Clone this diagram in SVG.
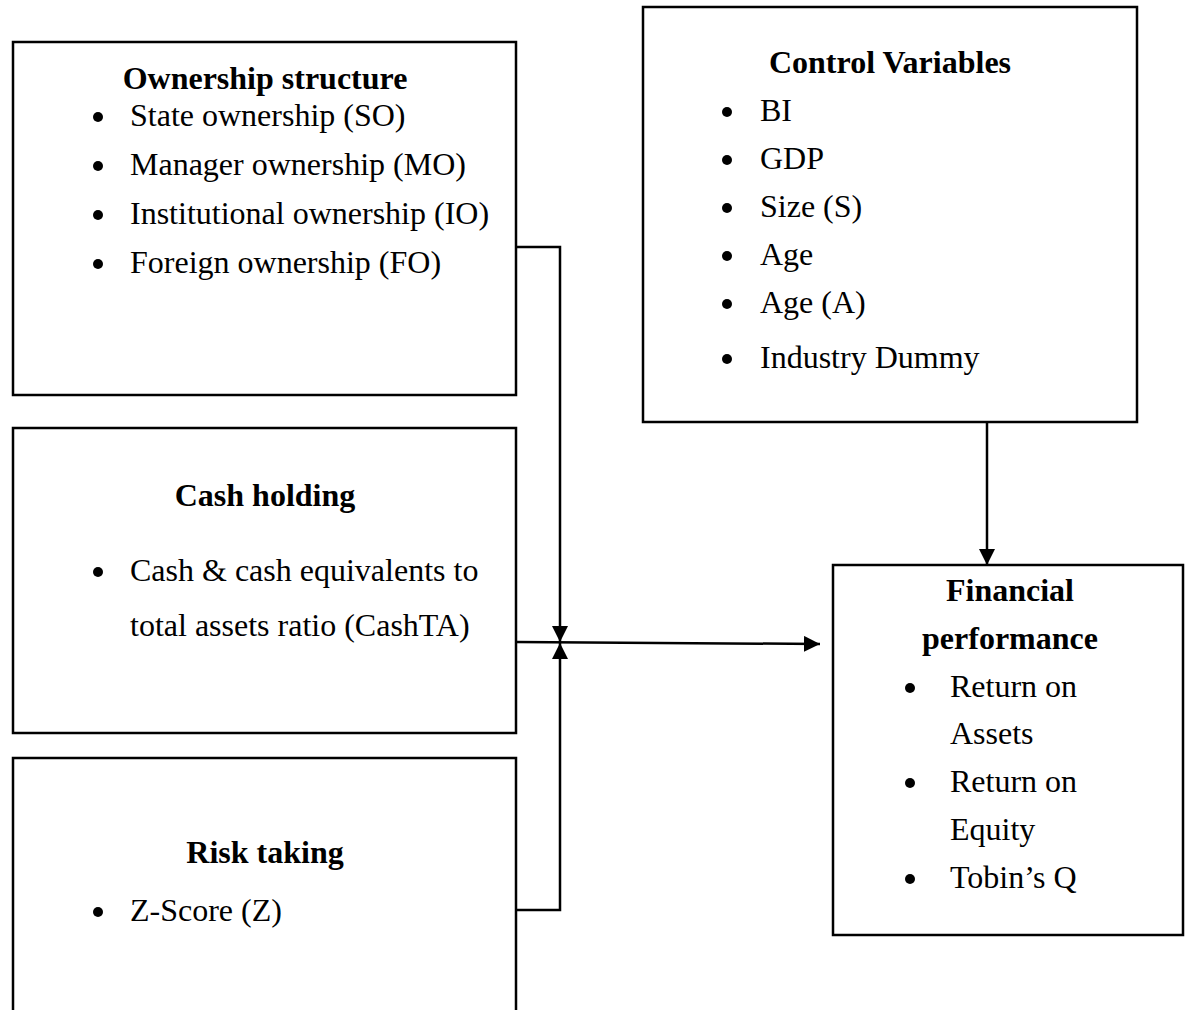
<svg xmlns="http://www.w3.org/2000/svg" width="1190" height="1010" viewBox="0 0 1190 1010">
<style>
.box{fill:#fff;stroke:#000;stroke-width:2.5}
.t{font-family:"Liberation Serif","Times New Roman",serif;font-size:32px;fill:#000}
.b{font-weight:bold}
.c{text-anchor:middle}
.ln{stroke:#000;stroke-width:2.5;fill:none}
</style>
<defs>
<marker id="ah" viewBox="0 0 10 10" refX="10" refY="5" markerWidth="16" markerHeight="16" markerUnits="userSpaceOnUse" orient="auto">
<path d="M0,0 L10,5 L0,10 Z" fill="#000"/>
</marker>
</defs>
<rect width="1190" height="1010" fill="#fff"/>
<g id="ownership">
<rect class="box" x="13" y="42" width="503" height="353"/>
<text class="t b c" x="265" y="89">Ownership structure</text>
<g class="t"><circle cx="98" cy="117" r="5"/><text x="130" y="126">State ownership (SO)</text>
<circle cx="98" cy="166" r="5"/><text x="130" y="175">Manager ownership (MO)</text>
<circle cx="98" cy="215" r="5"/><text x="130" y="224">Institutional ownership (IO)</text>
<circle cx="98" cy="264" r="5"/><text x="130" y="273">Foreign ownership (FO)</text></g>
</g>
<g id="cash">
<rect class="box" x="13" y="428" width="503" height="305"/>
<text class="t b c" x="265" y="506">Cash holding</text>
<g class="t"><circle cx="98" cy="572" r="5"/><text x="130" y="581">Cash &amp; cash equivalents to</text>
<text x="130" y="636">total assets ratio (CashTA)</text></g>
</g>
<g id="risk">
<rect class="box" x="13" y="758" width="503" height="270"/>
<text class="t b c" x="265" y="863">Risk taking</text>
<g class="t"><circle cx="98" cy="912" r="5"/><text x="130" y="921">Z-Score (Z)</text></g>
</g>
<g id="control">
<rect class="box" x="643" y="7" width="494" height="415"/>
<text class="t b c" x="890" y="73">Control Variables</text>
<g class="t"><circle cx="727" cy="112" r="5"/><text x="760" y="121">BI</text>
<circle cx="727" cy="160" r="5"/><text x="760" y="169">GDP</text>
<circle cx="727" cy="208" r="5"/><text x="760" y="217">Size (S)</text>
<circle cx="727" cy="256" r="5"/><text x="760" y="265">Age</text>
<circle cx="727" cy="304" r="5"/><text x="760" y="313">Age (A)</text>
<circle cx="727" cy="359" r="5"/><text x="760" y="368">Industry Dummy</text></g>
</g>
<g id="financial">
<rect class="box" x="833" y="565" width="350" height="370"/>
<text class="t b c" x="1010" y="601">Financial</text>
<text class="t b c" x="1010" y="649">performance</text>
<g class="t"><circle cx="910" cy="688" r="5"/><text x="950" y="697">Return on</text>
<text x="950" y="744">Assets</text>
<circle cx="910" cy="783" r="5"/><text x="950" y="792">Return on</text>
<text x="950" y="840">Equity</text>
<circle cx="910" cy="879" r="5"/><text x="950" y="888">Tobin’s Q</text></g>
</g>
<g id="connectors">
<path class="ln" d="M516,247 H560 V642" marker-end="url(#ah)"/>
<path class="ln" d="M516,910 H560 V643" marker-end="url(#ah)"/>
<path class="ln" d="M516,642 L820,644" marker-end="url(#ah)"/>
<path class="ln" d="M987,422 V565" marker-end="url(#ah)"/>
</g>
</svg>
